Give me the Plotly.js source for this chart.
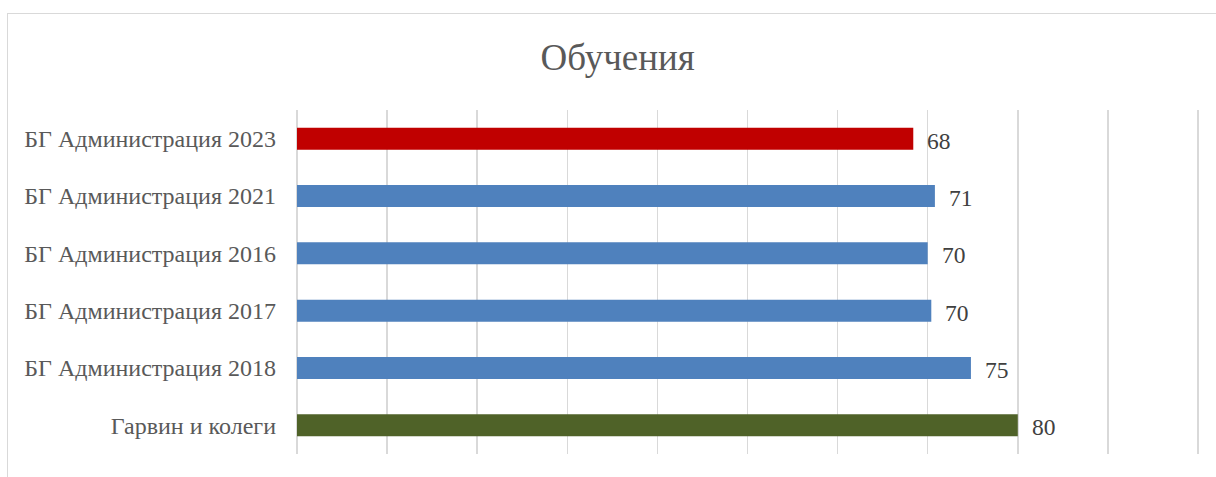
<!DOCTYPE html>
<html>
<head>
<meta charset="utf-8">
<script src="https://cdn.plot.ly/plotly-3.0.1.min.js"></script>
<style>
html,body{margin:0;padding:0;background:#fff;}
#wrap{position:relative;width:1216px;height:477px;overflow:hidden;}
#chart{position:absolute;left:0;top:0;width:1216px;height:477px;}
#frame{position:absolute;left:7px;top:13px;width:1230px;height:500px;border:1px solid #d9d9d9;pointer-events:none;}
</style>
</head>
<body>
<div id="wrap"><div id="chart"></div><div id="frame"></div></div>
<script>
const categories = [
  "БГ Администрация 2023",
  "БГ Администрация 2021",
  "БГ Администрация 2016",
  "БГ Администрация 2017",
  "БГ Администрация 2018",
  "Гарвин и колеги"
];
const values = [68.4, 70.8, 70.0, 70.4, 74.8, 80.0];
const barColors = ["#C00000", "#4F81BD", "#4F81BD", "#4F81BD", "#4F81BD", "#4F6228"];
const chartTitle = "Обучения";

const FONT = "'Liberation Serif', 'Times New Roman', serif";

const trace = {
  type: "bar",
  orientation: "h",
  y: categories,
  x: values,
  marker: {color: barColors},
  hoverinfo: "x+y"
};

const annotations = categories.map((c, i) => ({
  x: values[i],
  y: c,
  xref: "x",
  yref: "y",
  text: String(Math.round(values[i])),
  showarrow: false,
  xanchor: "left",
  yanchor: "middle",
  xshift: 12,
  yshift: -2,
  font: {family: FONT, size: 23.5, color: "#404040"}
}));

const layout = {
  width: 1216,
  height: 477,
  margin: {l: 297, r: 9, t: 110, b: 23, pad: 0},
  paper_bgcolor: "rgba(0,0,0,0)",
  plot_bgcolor: "rgba(0,0,0,0)",
  title: {
    text: chartTitle,
    font: {family: FONT, size: 37, color: "#595959"},
    x: 0.508,
    xanchor: "center",
    y: 0.88,
    yanchor: "middle"
  },
  xaxis: {
    range: [0, 101],
    tick0: 0,
    dtick: 10,
    showticklabels: false,
    showgrid: true,
    gridcolor: "#d9d9d9",
    gridwidth: 1.5,
    zeroline: true,
    zerolinecolor: "#d9d9d9",
    zerolinewidth: 1.5,
    showline: false,
    fixedrange: true
  },
  yaxis: {
    type: "category",
    autorange: "reversed",
    showgrid: false,
    zeroline: false,
    showline: false,
    ticks: "",
    ticklabelstandoff: 20,
    tickfont: {family: FONT, size: 24, color: "#595959"},
    fixedrange: true
  },
  bargap: 0.615,
  showlegend: false,
  annotations: annotations
};

Plotly.newPlot("chart", [trace], layout, {displayModeBar: false, staticPlot: true});
</script>
</body>
</html>
